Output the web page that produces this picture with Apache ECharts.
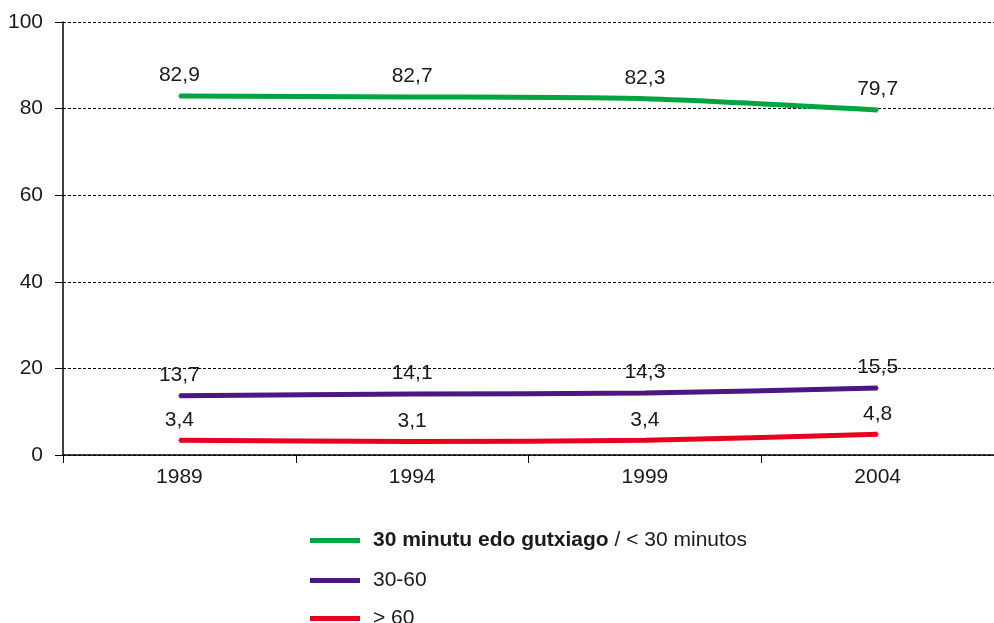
<!DOCTYPE html>
<html>
<head>
<meta charset="utf-8">
<script src="https://cdn.jsdelivr.net/npm/echarts@6/dist/echarts.min.js"></script>
<style>html,body{margin:0;padding:0;background:#fff;}#c{width:994px;height:623px;}</style>
</head>
<body>
<div id="c"></div>
<script>
const years = ['1989', '1994', '1999', '2004'];
const under30 = [82.9, 82.7, 82.3, 79.7];
const from30to60 = [13.7, 14.1, 14.3, 15.5];
const over60 = [3.4, 3.1, 3.4, 4.8];
const yTicks = [0, 20, 40, 60, 80, 100];
const names = ['30 minutu edo gutxiago / < 30 minutos', '30-60', '> 60'];
const colors = ['#00a53f', '#4a1880', '#e8001e'];

const font = 'Liberation Sans, Arial, sans-serif';
const fs = 21;
const chart = echarts.init(document.getElementById('c'));
function mk(name, data, color) {
  return {
    name: name, type: 'line', data: data, smooth: 0.25,
    symbol: 'circle', symbolSize: 2, showSymbol: true,
    lineStyle: { width: 5, color: color }, itemStyle: { color: color },
    label: { show: true, position: 'top', distance: 9, fontFamily: font, fontSize: fs, color: '#1a1a1a',
      formatter: p => String(p.value).replace('.', ',') },
    z: 3
  };
}
const legendTops = [525, 565, 603];
const legends = names.map((n, i) => ({
  orient: 'vertical', left: 305, top: legendTops[i], itemWidth: 50, itemHeight: 20,
  icon: 'path://M0,0 L50,0 L50,5 L0,5 Z',
  itemStyle: { color: colors[i] },
  textStyle: { fontSize: fs, color: '#1a1a1a', fontFamily: font, padding: [0, 0, 0, 8],
    rich: { b: { fontWeight: 'bold', fontSize: fs, color: '#1a1a1a', fontFamily: font },
            n: { fontSize: fs, color: '#1a1a1a', fontFamily: font } } },
  formatter: function (name) {
    if (name.indexOf(' / ') > 0) {
      const parts = name.split(' / ');
      return '{b|' + parts[0] + '}{n| / ' + parts[1] + '}';
    }
    return name;
  },
  data: [n]
}));
chart.setOption({
  animation: false,
  textStyle: { fontFamily: font },
  grid: { left: 63, right: -9, top: 22, bottom: 168 },
  xAxis: {
    type: 'category', data: years, boundaryGap: true,
    axisLine: { lineStyle: { color: '#000', width: 1.5 } },
    axisTick: { show: true, length: 8, lineStyle: { color: '#000' } },
    axisLabel: { fontSize: fs, color: '#1a1a1a', margin: 12, fontFamily: font }
  },
  yAxis: {
    type: 'value', min: yTicks[0], max: yTicks[yTicks.length - 1], interval: 20,
    axisLine: { show: true, lineStyle: { color: '#000', width: 1.5 } },
    axisTick: { show: true, length: 8, lineStyle: { color: '#000' } },
    axisLabel: { fontSize: fs, color: '#1a1a1a', margin: 20, fontFamily: font },
    splitLine: { show: true, lineStyle: { color: '#000', type: [3, 2], width: 1 } }
  },
  legend: legends,
  series: [
    mk(names[0], under30, colors[0]),
    mk(names[1], from30to60, colors[1]),
    mk(names[2], over60, colors[2])
  ]
});
</script>
</body>
</html>
